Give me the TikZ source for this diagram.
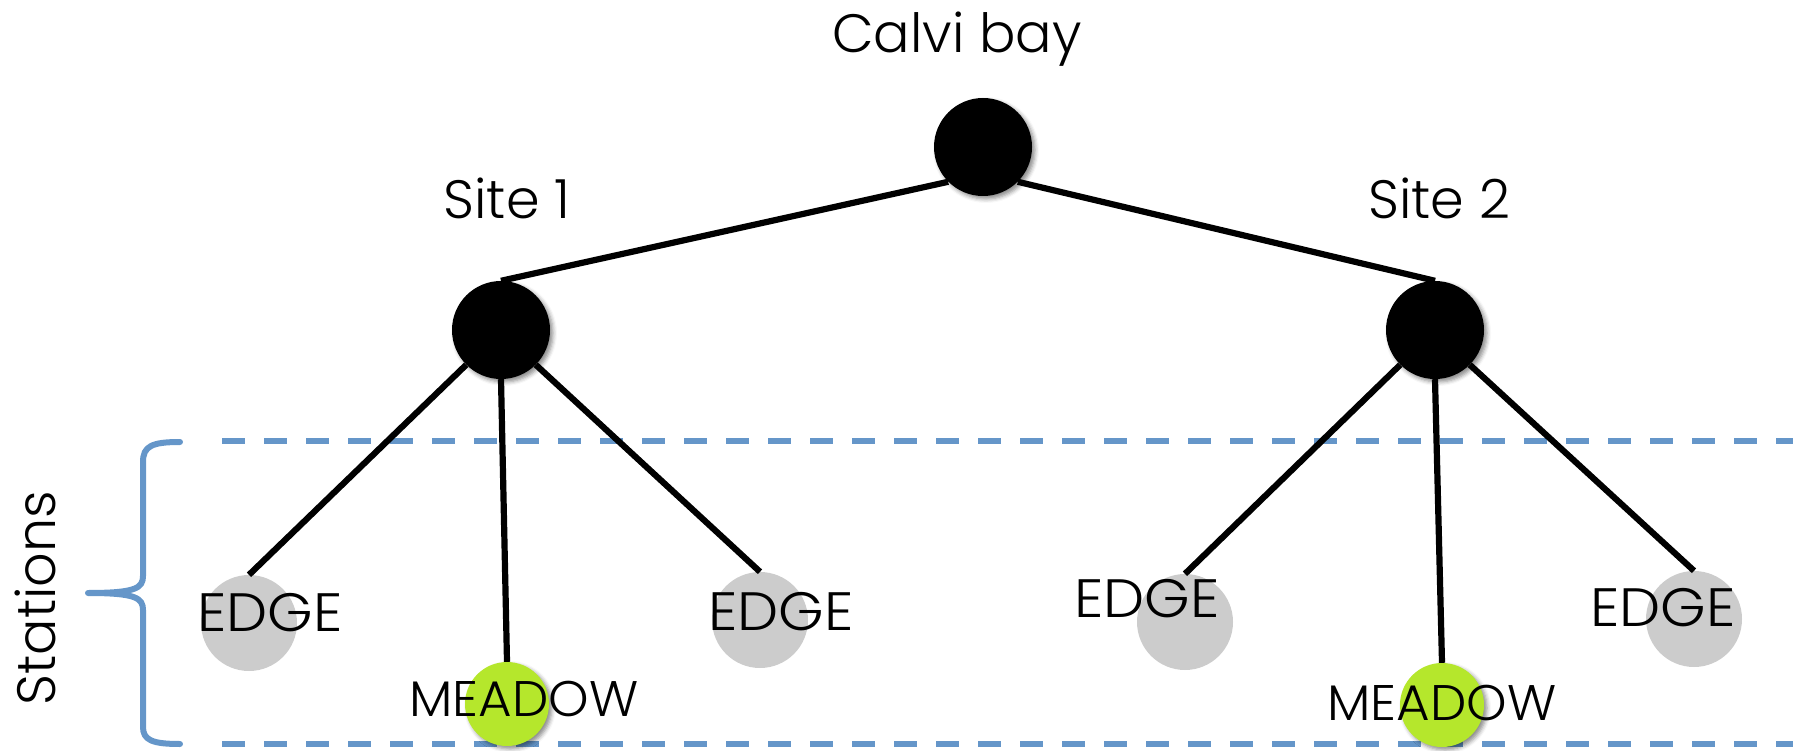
\documentclass[tikz,border=0pt]{standalone}
\usepackage{fontspec}
\setmainfont{Poppins}[UprightFont=* Light]
\usetikzlibrary{shadows.blur}
\definecolor{nodegray}{RGB}{204,204,204}
\definecolor{meadowgreen}{RGB}{181,231,44}
\definecolor{bandblue}{RGB}{101,150,201}
\tikzset{
  blacknode/.style={circle, fill=black, minimum size=98pt, inner sep=0pt,
    blur shadow={shadow xshift=3pt, shadow yshift=-3pt, shadow blur radius=4pt, shadow opacity=45}},
  edgenode/.style={circle, fill=nodegray, minimum size=96pt, inner sep=0pt},
  meadownode/.style={circle, fill=meadowgreen, minimum size=84pt, inner sep=0pt,
    blur shadow={shadow xshift=3pt, shadow yshift=-3pt, shadow blur radius=4pt, shadow opacity=45}},
  branch/.style={line width=6.2pt, black},
  bigtext/.style={inner sep=0pt, anchor=base, font=\fontsize{54}{60}\selectfont},
  captext/.style={bigtext, xscale=1.08},
  midtext/.style={inner sep=0pt, anchor=base, xscale=1.03, font=\fontsize{50}{56}\selectfont},
  band/.style={line width=6.5pt, bandblue, dash pattern=on 23pt off 19pt},
  bracestyle/.style={line width=6pt, bandblue, line cap=round, line join=round},
}
\begin{document}
\begin{tikzpicture}[x=1pt,y=-1pt]
\useasboundingbox (0,0) rectangle (1793,751);
% dashed band
\coordinate (bandTL) at (222,441);
\coordinate (bandTR) at (1793,441);
\coordinate (bandBL) at (222,744);
\coordinate (bandBR) at (1793,744);
\draw[band] (bandTL) -- (bandTR);
\draw[band] (bandBL) -- (bandBR);
% brace
\draw[bracestyle] (180,442) .. controls (152,442) and (143,446) .. (143,462)
  -- (143,576) .. controls (143,588) and (136,593) .. (88,593)
  .. controls (136,593) and (143,598) .. (143,610)
  -- (143,727) .. controls (143,740) and (152,744) .. (180,744);
\node[bigtext, rotate=90] (stations) at (55,598) {Stations};
% nodes
\node[blacknode] (root) at (983,147) {};
\node[blacknode] (site1) at (501,330) {};
\node[blacknode] (site2) at (1435,330) {};
\node[edgenode] (e1) at (249,623) {};
\node[edgenode] (e2) at (760,620) {};
\node[edgenode] (e3) at (1185,622) {};
\node[edgenode] (e4) at (1694,619) {};
\node[meadownode] (m1) at (507,704) {};
\node[meadownode] (m2) at (1442,705) {};
% connectors
\draw[branch] (root.225) -- (site1.north);
\draw[branch] (root.315) -- (site2.north);
\draw[branch] (site1.225) -- (e1.north);
\draw[branch] (site1.south) -- (m1.north);
\draw[branch] (site1.315) -- (e2.north);
\draw[branch] (site2.225) -- (e3.north);
\draw[branch] (site2.south) -- (m2.north);
\draw[branch] (site2.315) -- (e4.north);
% labels
\node[bigtext] (calvi) at (957,53) {Calvi bay};
\node[bigtext] (s1lab) at (507,219) {Site 1};
\node[bigtext] (s2lab) at (1439,219) {Site 2};
\node[captext] (e1lab) at (270,631) {EDGE};
\node[captext] (e2lab) at (781,630) {EDGE};
\node[captext] (e3lab) at (1147,617) {EDGE};
\node[captext] (e4lab) at (1663,626) {EDGE};
\node[midtext] (m1lab) at (524,716) {MEADOW};
\node[midtext] (m2lab) at (1442,720) {MEADOW};
\end{tikzpicture}
\end{document}
